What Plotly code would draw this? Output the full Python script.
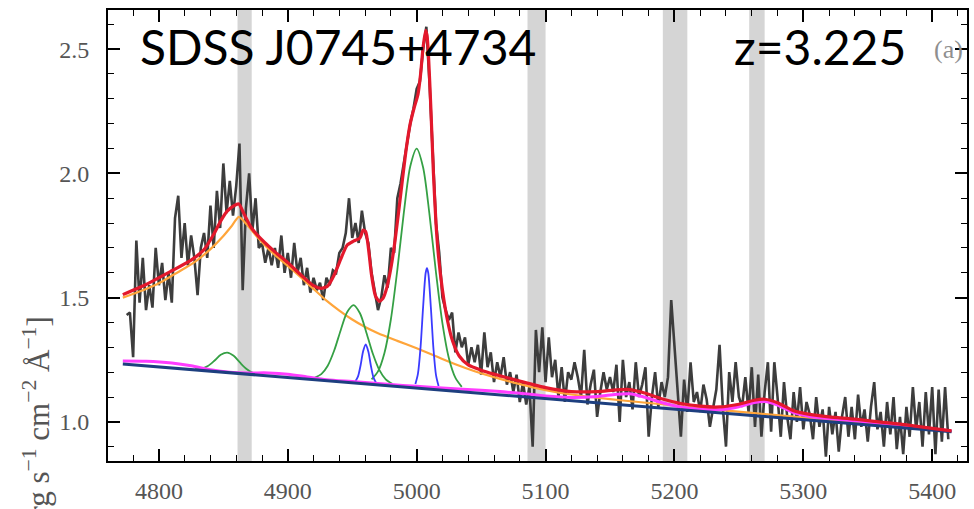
import numpy as np
import plotly.graph_objects as go

# ---------------- data ----------------
wave_start = 4775.0
wave_step = 2.5
flux = [
    1.43, 1.44, 1.26, 1.73, 1.48, 1.66, 1.45, 1.55, 1.46, 1.70,
    1.55, 1.64, 1.49, 1.60, 1.48, 1.82, 1.91, 1.66, 1.80, 1.63,
    1.75, 1.66, 1.51, 1.70, 1.76, 1.66, 1.87, 1.70, 1.93, 1.78,
    2.04, 1.84, 1.97, 1.83, 1.95, 2.12, 1.53, 1.86, 2.00, 1.77,
    1.90, 1.70, 1.72, 1.64, 1.70, 1.63, 1.70, 1.62, 1.75, 1.60,
    1.68, 1.58, 1.72, 1.60, 1.66, 1.55, 1.62, 1.52, 1.58, 1.53,
    1.56, 1.49, 1.58, 1.55, 1.61, 1.60, 1.68, 1.70, 1.76, 1.90,
    1.74, 1.80, 1.72, 1.85, 1.76, 1.72, 1.60, 1.52, 1.45, 1.50,
    1.59, 1.54, 1.70, 1.68, 1.90, 1.96, 2.05, 2.12, 2.20, 2.26,
    2.34, 2.37, 2.50, 2.59, 2.36, 2.10, 1.80, 1.68, 1.50, 1.45,
    1.41, 1.44, 1.28, 1.36, 1.30, 1.34, 1.23, 1.30, 1.24, 1.31,
    1.19, 1.36, 1.22, 1.28, 1.16, 1.24, 1.18, 1.26, 1.15, 1.20,
    1.12, 1.19, 1.08, 1.16, 1.07, 1.14, 0.90, 1.37, 1.20, 1.38,
    1.16, 1.34, 1.18, 1.25, 1.10, 1.22, 1.08, 1.20, 1.17, 1.24,
    1.18, 1.10, 1.29, 1.07, 1.15, 1.21, 1.02, 1.12, 1.20, 1.13,
    1.18, 1.12, 1.23, 1.00, 1.25, 1.10, 1.16, 1.05, 1.24, 1.10,
    1.15, 1.22, 0.94, 1.10, 1.20, 1.06, 1.16, 1.10, 1.18, 1.49,
    1.30, 1.10, 0.94, 1.17, 1.04, 1.24, 1.08, 1.12, 1.04, 1.15,
    1.09, 0.98, 1.06, 1.13, 1.31, 1.06, 0.90, 1.20, 1.08, 1.24,
    1.10, 1.06, 1.18, 1.04, 1.22, 0.98, 1.19, 0.94, 1.12, 1.24,
    0.96, 1.24, 1.10, 0.94, 1.16, 1.02, 0.93, 1.12, 1.00, 1.14,
    0.97, 1.08, 1.03, 0.93, 1.10, 0.98, 1.05, 0.86, 1.06, 0.95,
    1.04, 0.88, 1.02, 1.10, 0.94, 1.06, 0.93, 1.11, 0.98, 1.05,
    0.92, 1.06, 1.16, 0.97, 1.04, 0.90, 1.08, 0.95, 1.10, 0.89,
    1.02, 0.87, 1.06, 0.94, 1.14, 0.97, 1.08, 0.90, 1.12, 0.95,
    1.14, 0.87, 1.13, 0.92, 1.14, 0.93,
]
wave = wave_start + wave_step * np.arange(len(flux))

cont_wave = [4772, 4900, 5000, 5100, 5200, 5300, 5415]
cont_flux = [1.233, 1.179, 1.137, 1.094, 1.052, 1.009, 0.960]

broad_wave = [4772, 4790, 4800, 4810, 4820, 4830, 4840, 4850, 4856, 4862, 4868,
              4875, 4882, 4890, 4900, 4910, 4920, 4930, 4940, 4950, 4960, 4970,
              4985, 5000, 5015, 5030, 5045, 5060, 5080, 5100, 5120, 5140, 5160,
              5180, 5200, 5230, 5260, 5290, 5320, 5350, 5380, 5415]
broad_flux = [1.500, 1.535, 1.558, 1.588, 1.618, 1.652, 1.695, 1.748, 1.785, 1.825,
              1.795, 1.752, 1.712, 1.672, 1.628, 1.582, 1.535, 1.488, 1.448, 1.412,
              1.382, 1.357, 1.326, 1.296, 1.264, 1.232, 1.204, 1.180, 1.152, 1.128,
              1.110, 1.097, 1.086, 1.076, 1.066, 1.050, 1.036, 1.022, 1.008, 0.994,
              0.980, 0.962]

feii_wave = [4772, 4790, 4810, 4825, 4840, 4855, 4870, 4885, 4900, 4915, 4930, 4950,
             4980, 5000, 5020, 5050, 5080, 5100, 5120, 5140, 5155, 5165, 5175, 5190,
             5205, 5220, 5235, 5250, 5262, 5270, 5280, 5292, 5305, 5320, 5340, 5360,
             5380, 5400, 5415]
feii_flux = [1.245, 1.244, 1.237, 1.226, 1.210, 1.200, 1.197, 1.197, 1.192, 1.181,
             1.170, 1.162, 1.150, 1.143, 1.136, 1.127, 1.115, 1.104, 1.098, 1.102,
             1.111, 1.113, 1.102, 1.078, 1.060, 1.051, 1.049, 1.061, 1.078, 1.082,
             1.068, 1.038, 1.022, 1.013, 1.004, 0.994, 0.984, 0.971, 0.963]

hb_wave = [4828, 4833, 4838, 4843, 4848, 4853, 4858, 4863, 4868, 4873, 4878]
hb_flux = [1.212, 1.214, 1.225, 1.246, 1.270, 1.279, 1.266, 1.238, 1.213, 1.197, 1.190]

o4959w_wave = [4921, 4926, 4931, 4936, 4941, 4946, 4951, 4956, 4961, 4966, 4971, 4976, 4981]
o4959w_flux = [1.178, 1.192, 1.226, 1.287, 1.368, 1.441, 1.470, 1.437, 1.359, 1.274,
               1.209, 1.171, 1.153]

o5007w_wave = [4965, 4970, 4975, 4980, 4985, 4990, 4995, 5000, 5005, 5010, 5015,
               5020, 5025, 5030, 5035]
o5007w_flux = [1.171, 1.203, 1.277, 1.413, 1.612, 1.840, 2.028, 2.100, 2.024, 1.832,
               1.600, 1.396, 1.256, 1.178, 1.141]

o4959n_wave = [4952.5, 4954.5, 4956.5, 4958.5, 4960.5, 4962.5, 4964.5, 4966.5, 4968.5]
o4959n_flux = [1.164, 1.183, 1.228, 1.285, 1.312, 1.283, 1.225, 1.178, 1.157]

o5007n_wave = [4999, 5001, 5003, 5005, 5007, 5008, 5009, 5011, 5013, 5015, 5017]
o5007n_flux = [1.152, 1.194, 1.300, 1.463, 1.600, 1.619, 1.599, 1.461, 1.296, 1.188, 1.144]

total_wave = [4772, 4790, 4810, 4825, 4835, 4843, 4848, 4853, 4858, 4862, 4866, 4872,
              4882, 4890, 4900, 4910, 4920, 4926, 4931, 4936, 4941, 4946, 4951, 4956,
              4958.5, 4960.5, 4962.5, 4965, 4968, 4971, 4974, 4977, 4980, 4983, 4986,
              4989, 4992, 4995, 4998, 5001, 5003, 5005, 5007, 5008, 5009, 5011, 5013,
              5015, 5017, 5020, 5024, 5028, 5033, 5040, 5050, 5060, 5080, 5100, 5120,
              5140, 5155, 5165, 5175, 5190, 5205, 5220, 5235, 5250, 5262, 5270, 5280,
              5292, 5305, 5320, 5340, 5360, 5380, 5400, 5415]
total_flux = [1.512, 1.553, 1.608, 1.651, 1.693, 1.759, 1.809, 1.848, 1.869, 1.877,
              1.837, 1.779, 1.722, 1.684, 1.641, 1.592, 1.548, 1.537, 1.547, 1.591,
              1.654, 1.711, 1.727, 1.740, 1.772, 1.765, 1.702, 1.590, 1.507, 1.485,
              1.498, 1.543, 1.619, 1.721, 1.845, 1.977, 2.102, 2.200, 2.263, 2.318,
              2.397, 2.509, 2.576, 2.556, 2.493, 2.263, 2.001, 1.798, 1.663, 1.531,
              1.406, 1.323, 1.265, 1.229, 1.208, 1.192, 1.164, 1.138, 1.122, 1.122,
              1.129, 1.130, 1.119, 1.093, 1.074, 1.063, 1.060, 1.071, 1.087, 1.091,
              1.077, 1.046, 1.030, 1.020, 1.011, 0.999, 0.988, 0.974, 0.964]

masked_ranges = [(4861, 4872), (5086, 5100), (5191, 5210), (5258, 5270)]

x_ticks = [4800, 4900, 5000, 5100, 5200, 5300, 5400]
y_ticks = [1.0, 1.5, 2.0, 2.5]

# ---------------- figure ----------------
fig = go.Figure()

fig.add_trace(go.Scatter(x=wave, y=flux, mode="lines", line=dict(color="#3d3d3d", width=2.6)))
fig.add_trace(go.Scatter(x=broad_wave, y=broad_flux, mode="lines",
                         line=dict(color="#ffa53a", width=2.2, shape="spline", smoothing=0.6)))
for w, f in [(hb_wave, hb_flux), (o4959w_wave, o4959w_flux), (o5007w_wave, o5007w_flux)]:
    fig.add_trace(go.Scatter(x=w, y=f, mode="lines",
                             line=dict(color="#35a044", width=1.8, shape="spline", smoothing=0.8)))
for w, f in [(o4959n_wave, o4959n_flux), (o5007n_wave, o5007n_flux)]:
    fig.add_trace(go.Scatter(x=w, y=f, mode="lines",
                             line=dict(color="#3b3bff", width=1.8, shape="spline", smoothing=0.8)))
fig.add_trace(go.Scatter(x=feii_wave, y=feii_flux, mode="lines",
                         line=dict(color="#ff3cff", width=3, shape="spline", smoothing=0.8)))
fig.add_trace(go.Scatter(x=cont_wave, y=cont_flux, mode="lines",
                         line=dict(color="#1d3f7f", width=3)))
fig.add_trace(go.Scatter(x=total_wave, y=total_flux, mode="lines",
                         line=dict(color="#e3182c", width=3.2, shape="spline", smoothing=0.6)))

for lo, hi in masked_ranges:
    fig.add_shape(type="rect", xref="x", yref="paper", x0=lo, x1=hi, y0=0, y1=1,
                  fillcolor="#d5d5d5", line=dict(width=0), layer="below")

tick_font = dict(family="Liberation Serif", size=24, color="#555555")

fig.update_xaxes(range=[4760.5, 5427], tickvals=x_ticks, ticks="inside", ticklen=12,
                 tickwidth=1.6, tickcolor="black", showline=True, linecolor="black",
                 linewidth=2, mirror="allticks", showgrid=False, zeroline=False,
                 minor=dict(ticks="inside", tick0=4800, dtick=20, ticklen=6,
                            tickwidth=1.4, tickcolor="black", showgrid=False),
                 tickfont=tick_font, ticklabelstandoff=7)
fig.update_yaxes(range=[0.8425, 2.6575], tickvals=y_ticks, tickformat=".1f",
                 ticks="inside", ticklen=12, tickwidth=1.6, tickcolor="black",
                 showline=True, linecolor="black", linewidth=2, mirror="allticks",
                 showgrid=False, zeroline=False,
                 minor=dict(ticks="inside", tick0=1.0, dtick=0.1, ticklen=6,
                            tickwidth=1.4, tickcolor="black", showgrid=False),
                 tickfont=tick_font, ticklabelstandoff=12)

fig.add_annotation(text="SDSS J0745+4734", xref="paper", yref="paper",
                   x=0.0348, y=0.918, xanchor="left", yanchor="middle", showarrow=False,
                   font=dict(family="Lato", size=48, color="black"))
fig.add_annotation(text="z=3.225", xref="paper", yref="paper",
                   x=0.9315, y=0.918, xanchor="right", yanchor="middle", showarrow=False,
                   font=dict(family="Lato", size=48, color="black"))
fig.add_annotation(text="(a)", xref="paper", yref="paper",
                   x=0.9975, y=0.912, xanchor="right", yanchor="middle", showarrow=False,
                   font=dict(family="Liberation Serif", size=26, color="#8f8f8f"))
fig.add_annotation(text="F<sub>λ</sub> [10<sup>−17</sup> erg s<sup>−1</sup> cm<sup>−2</sup> Å<sup>−1</sup>]",
                   xref="paper", yref="paper", x=-0.0802, y=0.3253,
                   xanchor="center", yanchor="top", textangle=-90, showarrow=False,
                   font=dict(family="Liberation Serif", size=31, color="#555555"))

fig.update_layout(width=974, height=509, margin=dict(l=108, r=5, t=10, b=38),
                  paper_bgcolor="white", plot_bgcolor="white", showlegend=False)

fig.write_html("out.html")
